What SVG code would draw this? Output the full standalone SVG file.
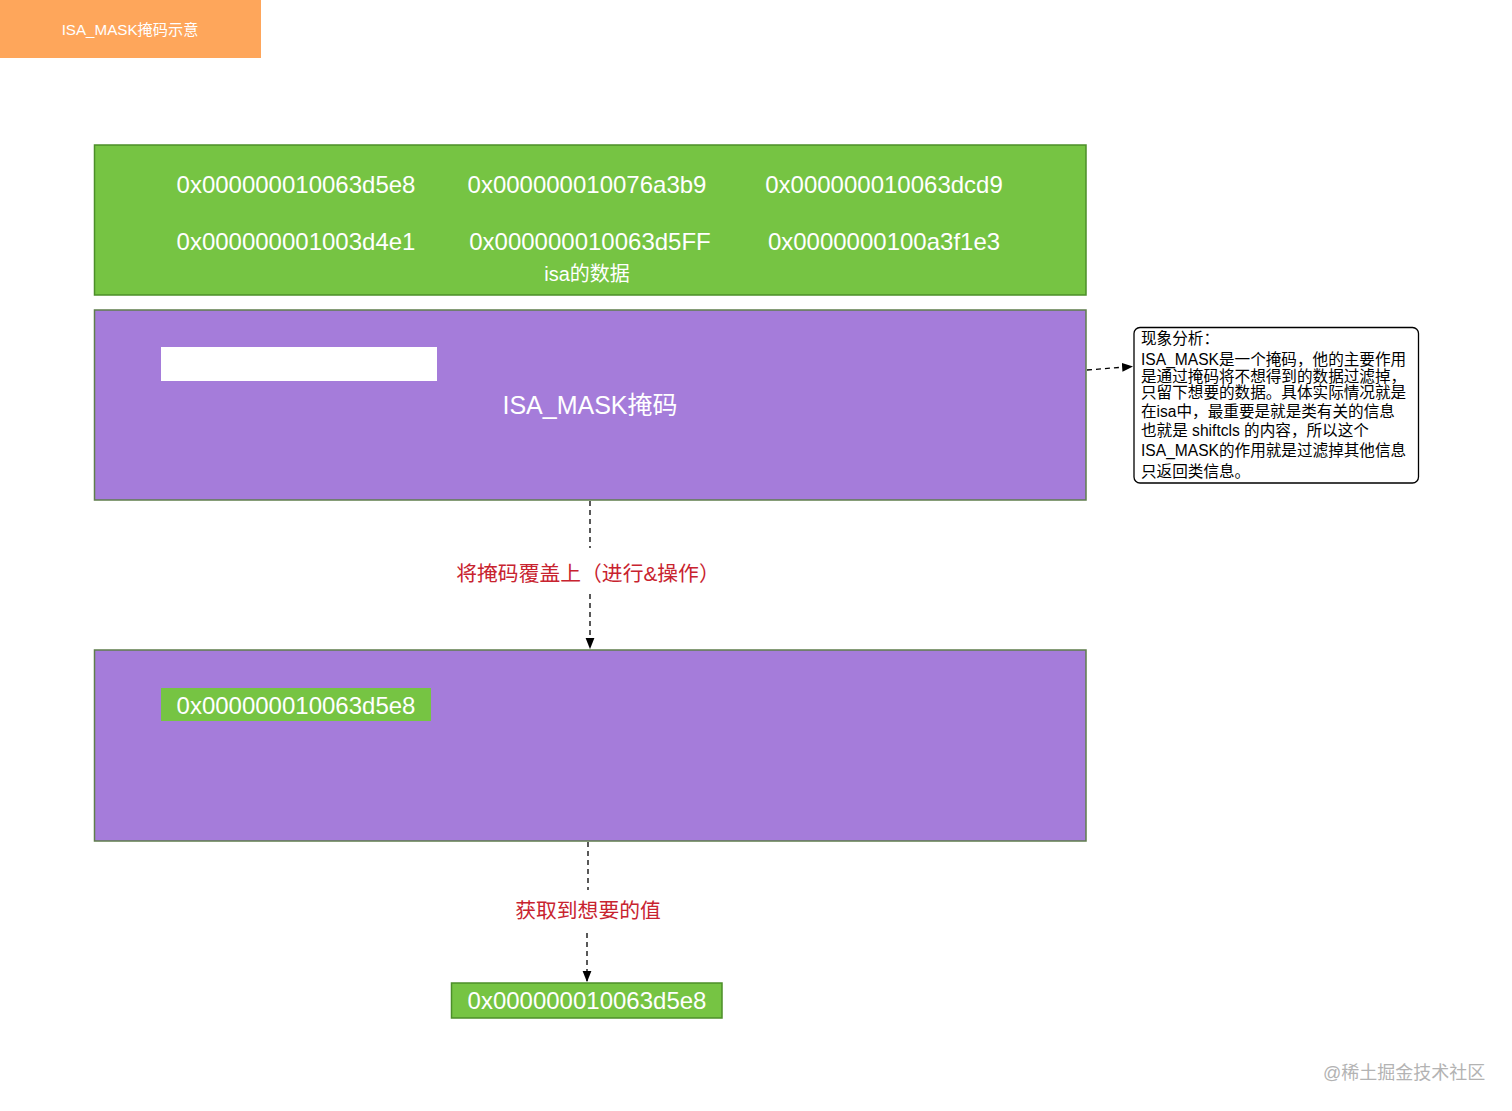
<svg xmlns="http://www.w3.org/2000/svg" width="1512" height="1111" viewBox="0 0 1512 1111">
<defs>
<style>
text{font-family:"Liberation Sans","Noto Sans CJK SC",sans-serif;}
.w{fill:#ffffff;}
.hex{font-size:24px;text-anchor:middle;fill:#ffffff;}
.red{fill:#c8232f;font-size:20.8px;text-anchor:middle;}
.note{font-size:15.6px;fill:#000;}
.green{fill:#76c443;stroke:#4c8f29;stroke-width:1.5;}
.purple{fill:#a57cda;stroke:#5f7d4c;stroke-width:1.5;}
.dash{fill:none;stroke:#000;stroke-width:1.3;stroke-dasharray:5,4;}
</style>
<marker id="arr" viewBox="0 0 10 10" refX="9" refY="5" markerWidth="11" markerHeight="11" markerUnits="userSpaceOnUse" orient="auto">
<path d="M0,1 L10,5 L0,9 z" fill="#000"/>
</marker>
</defs>
<rect width="1512" height="1111" fill="#ffffff"/>
<g id="title">
<rect x="0" y="0" width="261" height="58" fill="#fea65b"/>
<text x="130" y="34.5" class="w" font-size="15.2" text-anchor="middle">ISA_MASK掩码示意</text>
</g>
<g id="isa-data">
<rect x="94.5" y="145" width="991.5" height="150" class="green"/>
<text x="296" y="192.5" class="hex">0x000000010063d5e8</text>
<text x="587" y="192.5" class="hex">0x000000010076a3b9</text>
<text x="884" y="192.5" class="hex">0x000000010063dcd9</text>
<text x="296" y="249.5" class="hex">0x000000001003d4e1</text>
<text x="590" y="249.5" class="hex">0x000000010063d5FF</text>
<text x="884" y="249.5" class="hex">0x0000000100a3f1e3</text>
<text x="587" y="281" class="w" font-size="20" text-anchor="middle">isa的数据</text>
</g>
<g id="mask">
<rect x="94.5" y="310" width="991.5" height="190" class="purple"/>
<rect x="161" y="347" width="276" height="34" fill="#ffffff"/>
<text x="590" y="414" class="w" font-size="25" text-anchor="middle">ISA_MASK掩码</text>
</g>
<g id="note">
<rect x="1134" y="327.5" width="284.5" height="155.5" rx="6" ry="6" fill="#ffffff" stroke="#000" stroke-width="1.3"/>
<text class="note" x="1141" y="344">现象分析：</text>
<text class="note" x="1141" y="364.5">ISA_MASK是一个掩码，他的主要作用</text>
<text class="note" x="1141" y="381.5">是通过掩码将不想得到的数据过滤掉，</text>
<text class="note" x="1141" y="398">只留下想要的数据。具体实际情况就是</text>
<text class="note" x="1141" y="416.5">在isa中，最重要是就是类有关的信息</text>
<text class="note" x="1141" y="435.5">也就是 shiftcls 的内容，所以这个</text>
<text class="note" x="1141" y="455.5">ISA_MASK的作用就是过滤掉其他信息</text>
<text class="note" x="1141" y="476.5">只返回类信息。</text>
</g>
<g id="result-box">
<rect x="94.5" y="650" width="991.5" height="191" class="purple"/>
<rect x="161" y="688" width="270" height="33" fill="#76c443"/>
<text x="296" y="713.5" class="hex">0x000000010063d5e8</text>
</g>
<g id="result">
<rect x="451.5" y="983" width="270.5" height="35" class="green"/>
<text x="587" y="1008.5" class="hex">0x000000010063d5e8</text>
</g>
<g id="connectors">
<path d="M1087,370 L1132,366.5" class="dash" marker-end="url(#arr)"/>
<path d="M590,501 L590,548" class="dash"/>
<text x="588" y="580.5" class="red">将掩码覆盖上（进行&amp;操作）</text>
<path d="M590,594 L590,648" class="dash" marker-end="url(#arr)"/>
<path d="M588,842 L588,890" class="dash"/>
<text x="588" y="917.5" class="red">获取到想要的值</text>
<path d="M587,933 L587,981" class="dash" marker-end="url(#arr)"/>
</g>
<text x="1323" y="1078.5" font-size="18" fill="#b3b3b3">@稀土掘金技术社区</text>
</svg>
